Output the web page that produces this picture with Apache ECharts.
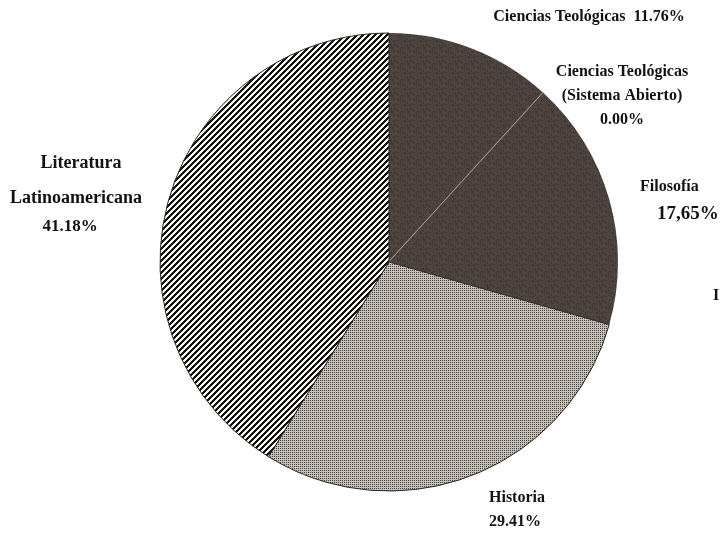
<!DOCTYPE html>
<html>
<head>
<meta charset="utf-8">
<script src="https://cdn.jsdelivr.net/npm/echarts@6/dist/echarts.min.js"></script>
<style>
html,body{margin:0;padding:0;background:#fff;}
#chart{width:722px;height:533px;}
</style>
</head>
<body>
<div id="chart"></div>
<script>
// ---- data ----
var categories = ['Ciencias Teológicas', 'Ciencias Teológicas (Sistema Abierto)', 'Filosofía', 'Historia', 'Literatura Latinoamericana'];
var values = [11.76, 0.00, 17.65, 29.41, 41.18];
var percentLabels = ['11.76%', '0.00%', '17,65%', '29.41%', '41.18%'];

// ---- patterns ----
function makeTile(w, h, fn) {
  var c = document.createElement('canvas');
  c.width = w; c.height = h;
  var ctx = c.getContext('2d');
  var img = ctx.createImageData(w, h);
  for (var y = 0; y < h; y++) for (var x = 0; x < w; x++) {
    var col = fn(x, y), i = (y * w + x) * 4;
    img.data[i] = col[0]; img.data[i+1] = col[1]; img.data[i+2] = col[2]; img.data[i+3] = 255;
  }
  ctx.putImageData(img, 0, 0);
  return c;
}
var stripeTile = makeTile(6, 6, function (x, y) {
  return ((x + y) % 6) < 3 ? [22, 20, 18] : [250, 248, 245];
});
var dotTile = makeTile(2, 2, function (x, y) {
  return (x === 0 && y === 0) ? [70, 66, 62] : [196, 191, 185];
});
var brownTile = makeTile(16, 16, function (x, y) {
  var n = Math.sin(x * 12.9898 + y * 78.233) * 43758.5453;
  n = n - Math.floor(n);
  var b = 56 + Math.round(n * 20);
  return [b + 9, b, b - 5];
});

var fills = [
  {image: brownTile, repeat: 'repeat'},
  '#b8a898',
  {image: brownTile, repeat: 'repeat'},
  {image: dotTile, repeat: 'repeat'},
  {image: stripeTile, repeat: 'repeat'}
];

var labelFont = {fontFamily: '"Liberation Serif", "DejaVu Serif", serif', fontWeight: 'bold', color: '#141210'};

var labelDefs = [
  {fmt: function () { return '{a|' + categories[0] + '  ' + percentLabels[0] + '}'; },
   x: 589, y: 17, align: 'center'},
  {fmt: function () { return '{a|Ciencias Teológicas}\n{a|(Sistema Abierto)}\n{a|' + percentLabels[1] + '}'; },
   x: 622, y: 96, align: 'center'},
  {fmt: function () { return '{a|' + categories[2] + '}\n{p|' + percentLabels[2] + '}'; },
   x: 640, y: 202, align: 'left'},
  {fmt: function () { return '{a|' + categories[3] + '}\n{a|' + percentLabels[3] + '}'; },
   x: 489, y: 510, align: 'left'},
  {fmt: function () { return '{l1|Literatura}\n{l2|Latinoamericana}\n{l3|' + percentLabels[4] + '}'; },
   x: 76, y: 192, align: 'center'}
];

var seriesData = categories.map(function (name, i) {
  var item = {
    name: name,
    value: values[i],
    itemStyle: {color: fills[i], borderWidth: 0},
    label: {formatter: labelDefs[i].fmt()}
  };
  if (i === 1) item.itemStyle = {color: '#b8a898', borderColor: '#b8a898', borderWidth: 1.5};
  if (i === 3 || i === 4) { item.itemStyle.borderColor = '#2a2622'; item.itemStyle.borderWidth = 1; }
  return item;
});

var chart = echarts.init(document.getElementById('chart'), null, {renderer: 'canvas'});
chart.setOption({
  animation: false,
  backgroundColor: '#ffffff',
  series: [{
    type: 'pie',
    center: [389, 262],
    radius: 229,
    startAngle: 90,
    clockwise: true,
    avoidLabelOverlap: false,
    stillShowZeroSum: true,
    silent: true,
    data: seriesData,
    labelLine: {show: false},
    label: {
      show: true,
      position: 'outside',
      rich: {
        a: Object.assign({fontSize: 16, lineHeight: 24}, labelFont),
        p: Object.assign({fontSize: 19, lineHeight: 30, padding: [0, 0, 0, 17]}, labelFont),
        l1: Object.assign({fontSize: 18, lineHeight: 38, padding: [0, 0, 0, 10]}, labelFont),
        l2: Object.assign({fontSize: 18, lineHeight: 32}, labelFont),
        l3: Object.assign({fontSize: 17, lineHeight: 26, padding: [0, 12, 0, 0]}, labelFont)
      }
    },
    labelLayout: function (params) {
      var d = labelDefs[params.dataIndex];
      return {x: d.x, y: d.y, align: d.align, verticalAlign: 'middle'};
    }
  }],
  graphic: [{
    type: 'text',
    left: 713,
    top: 288,
    style: {text: 'I', fontSize: 16, fill: '#141210', fontFamily: labelFont.fontFamily, fontWeight: 'bold'}
  }]
});
</script>
</body>
</html>
